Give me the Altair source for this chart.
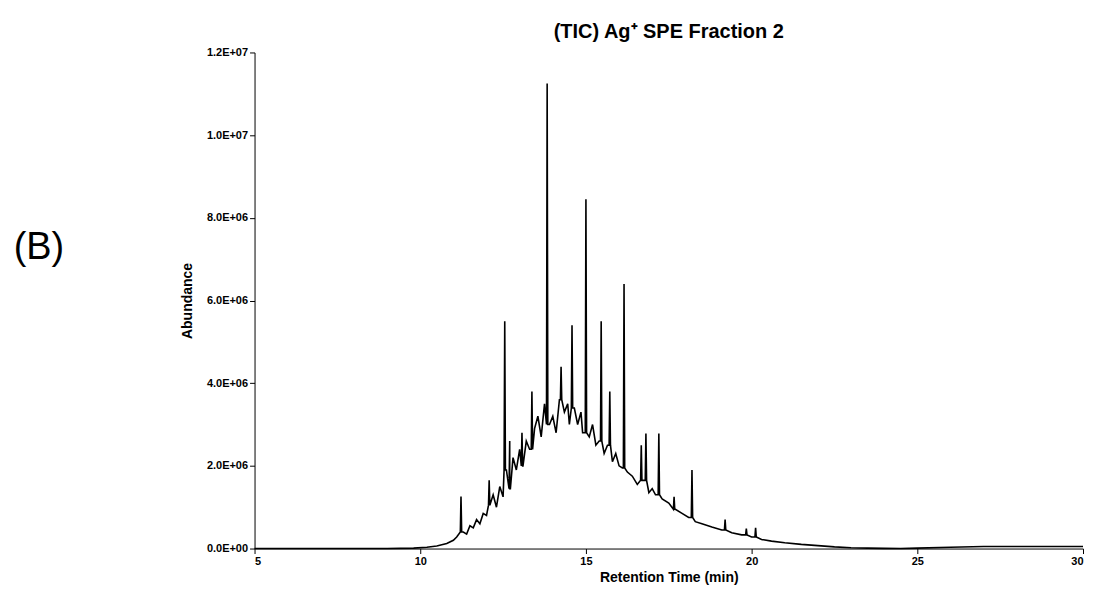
import altair as alt
import pandas as pd

# baseline (hump) readings with noise
base_t = [5.0, 7.0, 9.0, 9.8, 10.2, 10.5, 10.8, 11.0, 11.1, 11.3, 11.4, 11.5, 11.6, 11.7, 11.8, 11.9, 12.0, 12.1, 12.2, 12.3, 12.4, 12.5,
          12.6, 12.7, 12.8, 12.9, 13.0, 13.1, 13.2, 13.3, 13.45, 13.55, 13.65, 13.75, 13.9, 14.0, 14.1, 14.2, 14.35, 14.45, 14.5,
          14.65, 14.75, 14.85, 14.9, 15.1, 15.2, 15.3, 15.4, 15.55, 15.65, 15.8, 15.9, 16.0, 16.1, 16.25, 16.4, 16.55, 16.75,
          16.9, 17.0, 17.1, 17.3, 17.5, 17.7, 17.9, 18.1, 18.3, 18.5, 18.8, 19.1, 19.4, 19.7, 20.0, 20.3, 20.6, 21.0, 21.5,
          22.0, 22.5, 23.0, 23.5, 24.0, 24.5, 25.0, 26.0, 27.0, 28.0, 29.0, 30.0]
base_v = [0.0, 0.0, 0.0, 0.01, 0.03, 0.06, 0.12, 0.2, 0.28, 0.4, 0.35, 0.55, 0.5, 0.7, 0.6, 0.85, 0.8, 1.05, 1.3, 1.0, 1.5, 1.25,
          1.9, 1.45, 2.2, 1.9, 2.4, 2.0, 2.6, 2.4, 2.9, 3.2, 2.7, 3.5, 3.0, 3.2, 2.8, 3.6, 3.3, 3.5, 3.0,
          3.4, 3.0, 3.3, 2.8, 2.7, 3.0, 2.5, 2.6, 2.3, 2.5, 2.1, 2.3, 2.0, 1.95, 1.85, 1.75, 1.55, 1.65,
          1.35, 1.45, 1.3, 1.2, 1.1, 0.95, 0.85, 0.75, 0.65, 0.6, 0.52, 0.45, 0.38, 0.33, 0.28, 0.22, 0.18, 0.14, 0.1,
          0.07, 0.04, 0.02, 0.01, 0.005, 0.0, 0.01, 0.03, 0.05, 0.05, 0.05, 0.05]

# sharp peaks: retention time and apex abundance (1E6)
peak_t = [11.23, 12.08, 12.55, 12.7, 13.07, 13.37, 13.83, 14.25, 14.58, 15.0, 15.46, 15.72, 16.15, 16.67, 16.81, 17.2,
          17.66, 18.2, 19.2, 19.84, 20.12]
peak_v = [1.26, 1.65, 5.5, 2.6, 2.8, 3.8, 11.25, 4.4, 5.4, 8.45, 5.5, 3.8, 6.4, 2.5, 2.78, 2.78,
          1.25, 1.9, 0.7, 0.48, 0.5]

def nearest(t):
    i = min(range(len(base_t)), key=lambda k: abs(base_t[k] - t))
    return base_v[i]

rows = list(zip(base_t, base_v)) + list(zip(peak_t, peak_v))
for t in peak_t:
    rows.append((t - 0.02, nearest(t)))
    rows.append((t + 0.02, nearest(t)))
df = pd.DataFrame(rows, columns=["t", "v"]).sort_values("t")
df["v"] = df["v"] * 1e6

axis_style = dict(grid=False, titleFontSize=14, labelFontSize=11, labelFontWeight="bold",
                  domainColor="black", tickColor="black", labelColor="black", titleColor="black")

line = alt.Chart(df).mark_line(color="black", strokeWidth=1.6).encode(
    x=alt.X("t:Q", scale=alt.Scale(domain=[5, 30]),
            axis=alt.Axis(values=[5, 10, 15, 20, 25, 30], title="Retention Time (min)", **axis_style)),
    y=alt.Y("v:Q", scale=alt.Scale(domain=[0, 1.2e7]),
            axis=alt.Axis(values=[0, 2e6, 4e6, 6e6, 8e6, 1e7, 1.2e7],
                          labelExpr="datum.value==0 ? '0.0E+00' : format(datum.value/pow(10, floor(log(datum.value)/log(10)+1e-9)), '.1f') + 'E+' + (floor(log(datum.value)/log(10)+1e-9) < 10 ? '0' : '') + floor(log(datum.value)/log(10)+1e-9)",
                          title="Abundance", titlePadding=12, **axis_style)),
)

label = alt.Chart(pd.DataFrame({"s": ["(B)"]})).mark_text(
    fontSize=38, font="Liberation Sans", color="black", align="center", baseline="middle").encode(
    text="s:N", x=alt.value(-216), y=alt.value(196))

chart = alt.layer(line, label).properties(
    width=830, height=497,
    title=alt.TitleParams("(TIC) Ag⁺ SPE Fraction 2", fontSize=20, fontWeight="bold", color="black", anchor="middle"),
    padding={"left": 5, "top": 14, "right": 2, "bottom": 5},
).configure_view(stroke=None)

chart.save("out.html", embed_options={"renderer": "svg", "actions": False})
